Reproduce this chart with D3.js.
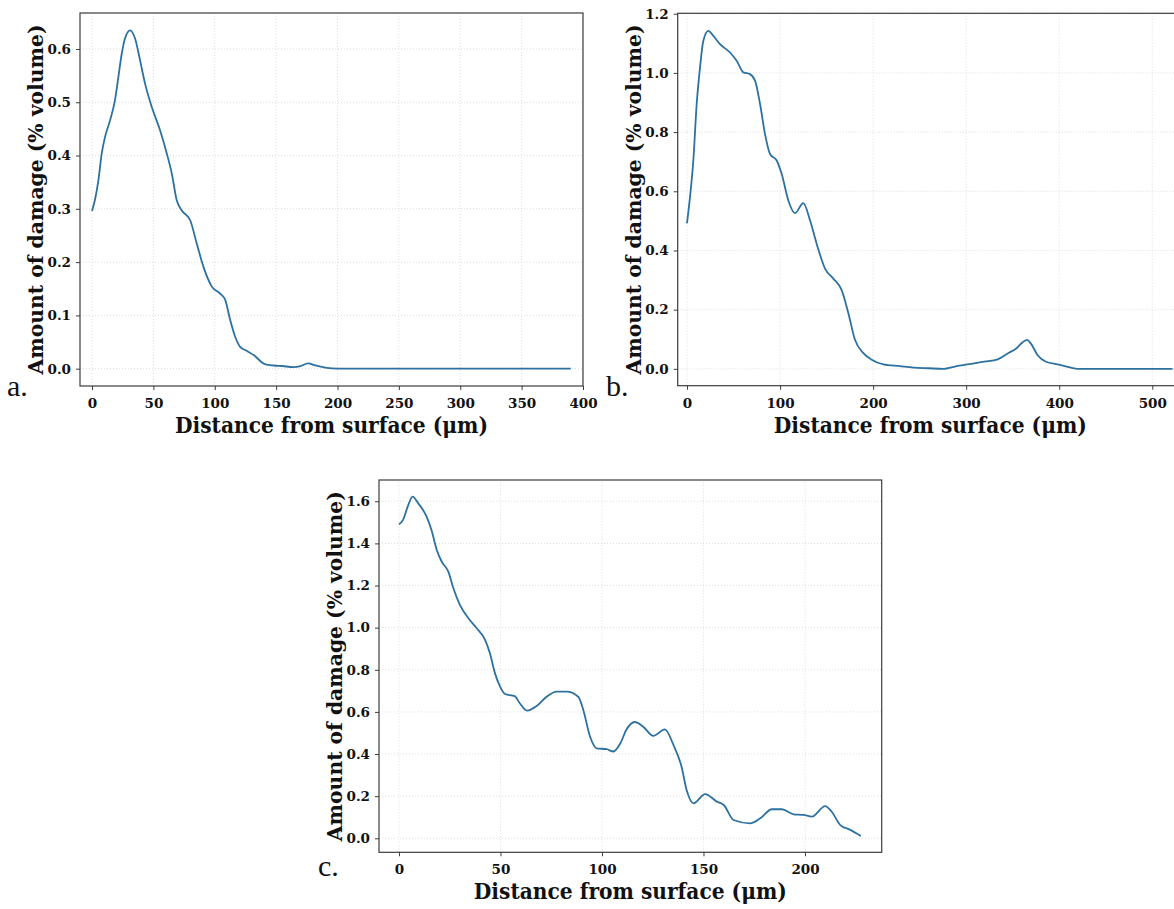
<!DOCTYPE html>
<html>
<head>
<meta charset="utf-8">
<script src="https://cdn.jsdelivr.net/npm/d3@7"></script>
<style>
  html, body { margin: 0; padding: 0; background: #fff; }
  svg { display: block; }
</style>
</head>
<body>
<svg id="chart" width="1174" height="909"></svg>
<script>
// ---------- Data ----------
// Panel a
const aX = [0, 2.5, 5.2, 7.9, 10.6, 14.7, 18.7, 21.5, 24.2, 26.9, 31, 35, 39.1, 43.2, 48.7, 55.5, 60.9, 65, 69, 73.1, 79.9, 85.3, 90.8, 97.6, 104.4, 108.5, 112.6, 116.6, 120.7, 124.8, 131.9, 141.3, 148, 155, 164, 170, 176, 182, 190, 200, 250, 300, 350, 390];
const aY = [0.296, 0.318, 0.354, 0.404, 0.435, 0.466, 0.504, 0.548, 0.591, 0.620, 0.635, 0.620, 0.579, 0.535, 0.491, 0.447, 0.404, 0.366, 0.316, 0.297, 0.279, 0.235, 0.191, 0.154, 0.141, 0.129, 0.091, 0.060, 0.041, 0.035, 0.025, 0.008, 0.006, 0.005, 0.003, 0.005, 0.010, 0.006, 0.002, 0.0, 0.0, 0.0, 0.0, 0.0];
const aXTicks = [0, 50, 100, 150, 200, 250, 300, 350, 400];
const aYTicks = [0.0, 0.1, 0.2, 0.3, 0.4, 0.5, 0.6];

// Panel b
const bX = [0, 3.2, 6.8, 10.4, 14, 17.5, 22.9, 28.3, 35.5, 46.2, 53.4, 60.6, 67.7, 73.1, 78.5, 83.8, 89.2, 96.4, 101.7, 108.9, 116, 125, 132.2, 139.3, 148.3, 157.2, 166.2, 173.4, 180.5, 189.5, 198.5, 211, 228.5, 243.3, 259.3, 276, 287, 301.5, 319.5, 333.8, 344.5, 353.5, 360.7, 365.4, 369.6, 376.8, 385.8, 398.3, 412.6, 419.7, 460, 500, 521.8];
const bY = [0.492, 0.580, 0.704, 0.895, 1.019, 1.108, 1.142, 1.125, 1.097, 1.069, 1.041, 1.002, 0.996, 0.974, 0.895, 0.794, 0.726, 0.704, 0.659, 0.569, 0.526, 0.560, 0.502, 0.423, 0.339, 0.305, 0.266, 0.188, 0.098, 0.053, 0.031, 0.015, 0.009, 0.004, 0.002, 0.0, 0.007, 0.015, 0.024, 0.032, 0.052, 0.068, 0.090, 0.098, 0.085, 0.046, 0.024, 0.015, 0.004, 0.0, 0.0, 0.0, 0.0];
const bXTicks = [0, 100, 200, 300, 400, 500];
const bYTicks = [0.0, 0.2, 0.4, 0.6, 0.8, 1.0, 1.2];

// Panel c
const cX = [0, 2, 4.6, 6.7, 9.5, 13.6, 16, 18.6, 21, 24.3, 26.8, 30, 34.2, 38.3, 42.4, 44.8, 47.3, 49.8, 52.2, 57, 59.6, 63, 67.8, 72.7, 77.7, 82.6, 88.3, 90.8, 94.1, 97.4, 102.3, 105.6, 109, 112, 116.2, 120.3, 125.3, 131, 135.2, 139.2, 141.7, 145.1, 150.8, 156.6, 160, 164.8, 173, 178, 183.7, 188.6, 194.4, 199.3, 203.4, 209.9, 213.2, 217.4, 222.3, 227.5];
const cY = [1.491, 1.512, 1.583, 1.622, 1.590, 1.527, 1.464, 1.369, 1.314, 1.266, 1.187, 1.108, 1.045, 0.997, 0.942, 0.878, 0.783, 0.720, 0.685, 0.675, 0.640, 0.606, 0.628, 0.672, 0.696, 0.696, 0.672, 0.609, 0.483, 0.427, 0.423, 0.412, 0.450, 0.515, 0.552, 0.530, 0.486, 0.517, 0.443, 0.340, 0.229, 0.166, 0.210, 0.174, 0.158, 0.087, 0.071, 0.095, 0.138, 0.138, 0.114, 0.111, 0.103, 0.153, 0.126, 0.063, 0.040, 0.011];
const cXTicks = [0, 50, 100, 150, 200];
const cYTicks = [0.0, 0.2, 0.4, 0.6, 0.8, 1.0, 1.2, 1.4, 1.6];

const xLabel = "Distance from surface (\u03bcm)";
const yLabel = "Amount of damage (% volume)";
const panelLetters = ["a.", "b.", "c."];

// ---------- Drawing ----------
const svg = d3.select("#chart");
const LINE = "#2d71a0";
const FRAME = "#3c3c3c";
const TICKFONT = "'DejaVu Serif', serif";
const LABELFONT = "'DejaVu Serif', serif";

function panel(cfg) {
  const x = d3.scaleLinear().domain(cfg.xDomain).range(cfg.xRange);
  const y = d3.scaleLinear().domain(cfg.yDomain).range(cfg.yRange);
  const g = svg.append("g");
  const [x0, x1] = cfg.xRange, [y0, y1] = cfg.yRange; // y0 bottom, y1 top

  const clipId = "clip" + cfg.letter.replace(".", "");
  svg.append("clipPath").attr("id", clipId).append("rect")
    .attr("x", x0).attr("y", y1).attr("width", x1 - x0).attr("height", y0 - y1);

  // grid
  g.append("g").selectAll("line").data(cfg.xTicks).join("line")
    .attr("x1", d => x(d)).attr("x2", d => x(d)).attr("y1", y0).attr("y2", y1)
    .attr("stroke", "#d4d4d4").attr("stroke-width", 0.8).attr("stroke-dasharray", "1,2");
  g.append("g").selectAll("line").data(cfg.yTicks).join("line")
    .attr("y1", d => y(d)).attr("y2", d => y(d)).attr("x1", x0).attr("x2", x1)
    .attr("stroke", "#d4d4d4").attr("stroke-width", 0.8).attr("stroke-dasharray", "1,2");

  // line
  const pts = cfg.xs.map((v, i) => [v, cfg.ys[i]]);
  g.append("path").datum(pts)
    .attr("clip-path", `url(#${clipId})`)
    .attr("fill", "none").attr("stroke", LINE).attr("stroke-width", 1.8)
    .attr("stroke-linejoin", "round")
    .attr("d", d3.line().x(d => x(d[0])).y(d => y(d[1])).curve(d3.curveMonotoneX));

  // axes
  const xAxis = d3.axisBottom(x).tickValues(cfg.xTicks).tickSize(4).tickPadding(5).tickFormat(d3.format("d"));
  const yAxis = d3.axisLeft(y).tickValues(cfg.yTicks).tickSize(4).tickPadding(5).tickFormat(d3.format(".1f"));
  const gx = g.append("g").attr("transform", `translate(0,${y0})`).call(xAxis);
  const gy = g.append("g").attr("transform", `translate(${x0},0)`).call(yAxis);
  [gx, gy].forEach(a => {
    a.select(".domain").remove();
    a.selectAll(".tick line").attr("stroke", FRAME).attr("stroke-width", 1);
    a.selectAll(".tick text").attr("fill", "#111").attr("font-family", TICKFONT)
      .attr("font-weight", "bold").attr("font-size", 13.5);
  });
  gx.selectAll(".tick text").attr("dy", "0.95em");

  // frame
  g.append("rect").attr("x", x0).attr("y", y1).attr("width", x1 - x0).attr("height", y0 - y1)
    .attr("fill", "none").attr("stroke", FRAME).attr("stroke-width", 1.2);

  // x label
  g.append("text").attr("x", (x0 + Math.min(x1, 1185)) / 2).attr("y", y0 + 47)
    .attr("text-anchor", "middle").attr("font-family", LABELFONT).attr("font-weight", "bold")
    .attr("font-size", 23).attr("fill", "#111")
    .attr("textLength", 313).attr("lengthAdjust", "spacingAndGlyphs")
    .text(xLabel);

  // y label
  const cy = (y0 + y1) / 2;
  g.append("text").attr("transform", `translate(${x0 - 37},${cy}) rotate(-90)`)
    .attr("text-anchor", "middle").attr("font-family", LABELFONT).attr("font-weight", "bold")
    .attr("font-size", 21).attr("fill", "#111")
    .attr("textLength", 350).attr("lengthAdjust", "spacingAndGlyphs")
    .text(yLabel);

  // panel letter
  g.append("text").attr("x", cfg.letterPos[0]).attr("y", cfg.letterPos[1])
    .attr("font-family", "'Liberation Serif', 'Times New Roman', serif")
    .attr("font-size", 30).attr("fill", "#111").text(cfg.letter);
}

panel({
  xs: aX, ys: aY, xTicks: aXTicks, yTicks: aYTicks,
  xDomain: [-9.8, 400], xRange: [80, 583],
  yDomain: [-0.0325, 0.6675], yRange: [386, 13],
  letter: panelLetters[0], letterPos: [7, 396]
});
panel({
  xs: bX, ys: bY, xTicks: bXTicks, yTicks: bYTicks,
  xDomain: [-10, 533], xRange: [677.7, 1183],
  yDomain: [-0.057, 1.2015], yRange: [385.7, 13.3],
  letter: panelLetters[1], letterPos: [606, 396]
});
panel({
  xs: cX, ys: cY, xTicks: cXTicks, yTicks: cYTicks,
  xDomain: [-9.85, 237.8], xRange: [379, 881.7],
  yDomain: [-0.0665, 1.701], yRange: [852.3, 480],
  letter: panelLetters[2], letterPos: [318, 876]
});
</script>
</body>
</html>
